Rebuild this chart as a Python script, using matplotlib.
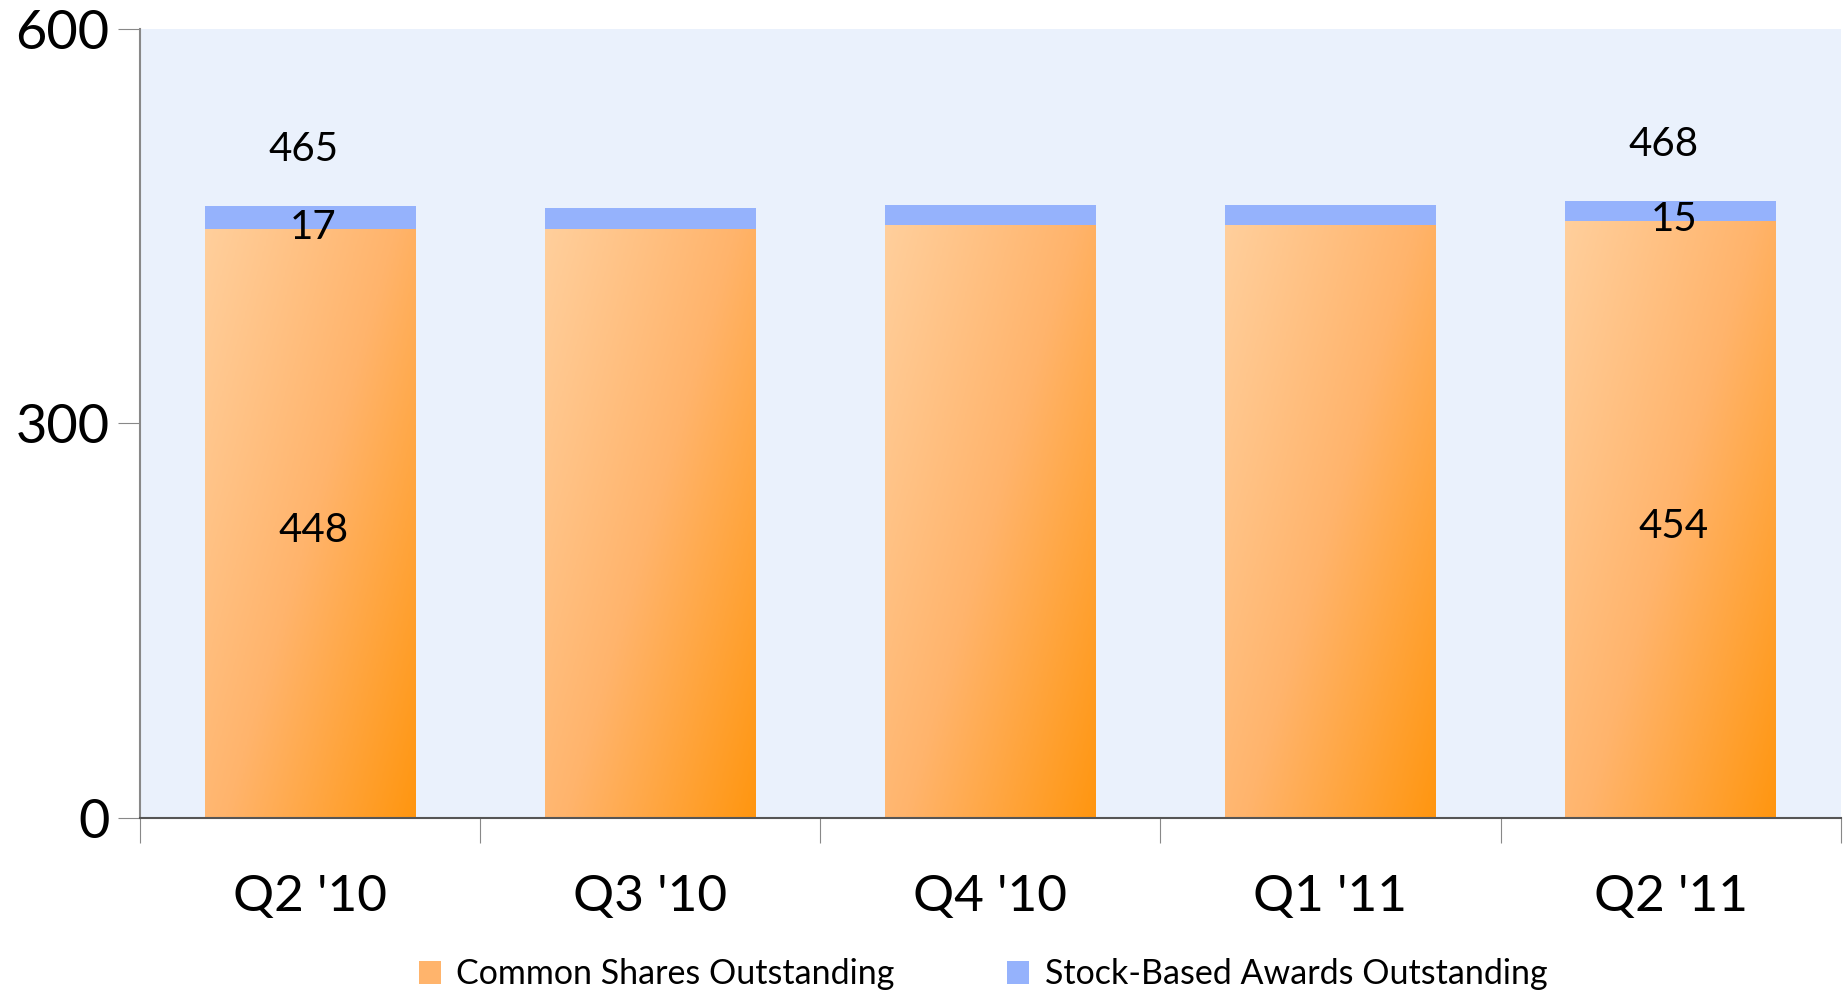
import numpy as np
import matplotlib
matplotlib.use("Agg")
import matplotlib.pyplot as plt
from matplotlib.colors import LinearSegmentedColormap
from matplotlib.patches import Patch

# Datos del grafico
trimestres = ["Q2 '10", "Q3 '10", "Q4 '10", "Q1 '11", "Q2 '11"]
acciones_comunes = [448, 448, 451, 451, 454]
premios_acciones = [17, 16, 15, 15, 15]
etiquetas_total = ["465", "", "", "", "468"]
etiquetas_comunes = ["448", "", "", "", "454"]
etiquetas_premios = ["17", "", "", "", "15"]

plt.rcParams['font.family'] = ['Lato', 'DejaVu Sans']

fig = plt.figure(figsize=(18.48, 9.92), dpi=100)
ax = fig.add_axes([0.0758, 0.1754, 0.9202, 0.7954])
ax.set_facecolor("#EAF1FC")

x = np.arange(len(trimestres))
ancho = 0.62

barras = ax.bar(x, acciones_comunes, ancho, color="none", linewidth=0,
                label="Common Shares Outstanding")
ax.bar(x, premios_acciones, ancho, bottom=acciones_comunes, color="#95B2FC",
       linewidth=0, label="Stock-Based Awards Outstanding")

# Degradado naranja dentro de cada barra (claro arriba-izquierda, oscuro abajo-derecha)
cmap = LinearSegmentedColormap.from_list("naranja", ["#FFCF9C", "#FFB46C", "#FF9610"])
nx, ny = 100, 300
u = np.linspace(0, 1, nx)[None, :]
v = np.linspace(0, 1, ny)[:, None]
grad = 0.55 * u + 0.45 * v
for b in barras:
    x0, y0 = b.get_x(), b.get_y()
    w, h = b.get_width(), b.get_height()
    im = ax.imshow(grad, cmap=cmap, extent=(x0, x0 + w, y0, y0 + h),
                   aspect="auto", origin="upper", zorder=1.5)
    im.set_clip_path(b)

# Etiquetas de valores
for i in range(len(trimestres)):
    total = acciones_comunes[i] + premios_acciones[i]
    if etiquetas_total[i]:
        ax.text(x[i] - 0.02, total + 43, etiquetas_total[i], ha="center",
                va="center", fontsize=29)
    if etiquetas_premios[i]:
        ax.text(x[i] + 0.01, acciones_comunes[i] + 1, etiquetas_premios[i],
                ha="center", va="center", fontsize=29)
    if etiquetas_comunes[i]:
        ax.text(x[i] + 0.01, acciones_comunes[i] / 2 - 5, etiquetas_comunes[i],
                ha="center", va="center", fontsize=29)

ax.set_xlim(-0.5, len(trimestres) - 0.5)
ax.set_ylim(0, 600)
ax.set_yticks([0, 300, 600])
ax.tick_params(axis="y", labelsize=39, length=16, color="#888888", pad=6)

# Marcas del eje x en los bordes de las categorias
ax.set_xticks(np.arange(len(trimestres) + 1) - 0.5)
ax.set_xticklabels([])
ax.set_xticks(x, minor=True)
ax.tick_params(axis="x", which="major", length=18, color="#888888")
ax.set_xticklabels(trimestres, minor=True)
ax.tick_params(axis="x", which="minor", length=0, labelsize=37, pad=40)

for lado in ["top", "right"]:
    ax.spines[lado].set_visible(False)
ax.spines["left"].set_color("#888888")
ax.spines["bottom"].set_color("#555555")
ax.spines["left"].set_linewidth(1.5)
ax.spines["bottom"].set_linewidth(1.5)

manejadores = [Patch(facecolor="#FFB46C", edgecolor="none"),
               Patch(facecolor="#95B2FC", edgecolor="none")]
fig.legend(manejadores, ["Common Shares Outstanding", "Stock-Based Awards Outstanding"],
           loc="center", bbox_to_anchor=(0.532, 0.018), ncol=2, frameon=False,
           fontsize=24.5, handlelength=0.65, handleheight=0.65, handletextpad=0.45,
           columnspacing=3.3)

plt.savefig("out.png", dpi=100)
plt.close()
